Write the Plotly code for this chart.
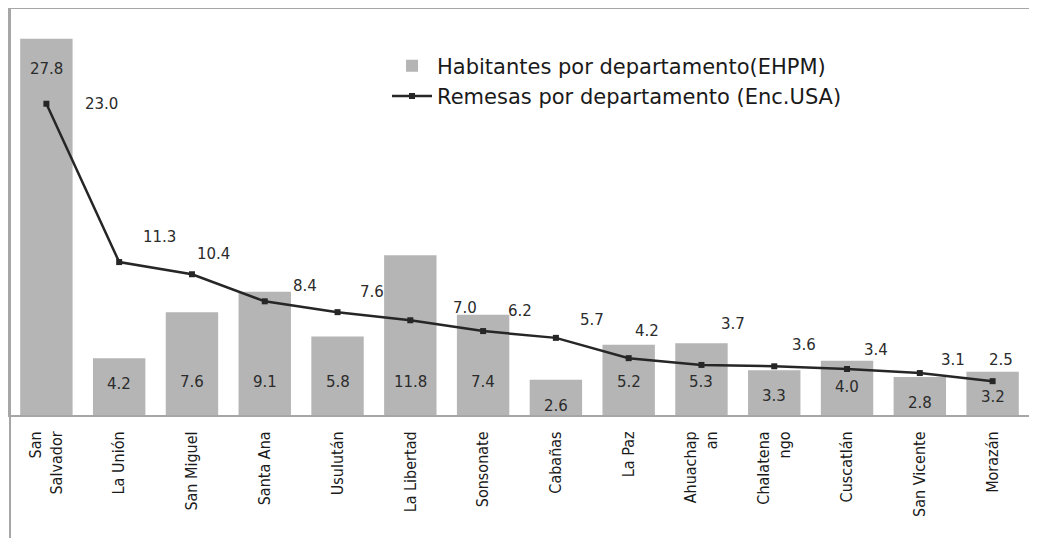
import plotly.graph_objects as go

# Departamentos (as written on the axis)
departamentos = ['San<br>Salvador', 'La Unión', 'San Miguel', 'Santa Ana', 'Usulután',
                 'La Libertad', 'Sonsonate', 'Cabañas', 'La Paz', 'Ahuachap<br>an',
                 'Chalatena<br>ngo', 'Cuscatlán', 'San Vicente', 'Morazán']

# Habitantes por departamento (EHPM), %
habitantes = [27.8, 4.2, 7.6, 9.1, 5.8, 11.8, 7.4, 2.6, 5.2, 5.3, 3.3, 4.0, 2.8, 3.2]

# Remesas por departamento (Enc.USA), %
remesas = [23.0, 11.3, 10.4, 8.4, 7.6, 7.0, 6.2, 5.7, 4.2, 3.7, 3.6, 3.4, 3.1, 2.5]

# pixel offsets of the line labels (style, not data)
label_shift = [(55, 0), (40, 25), (22, 20), (40, 15), (34, 20), (55, 12), (37, 20),
               (36, 18), (18, 27), (32, 41), (30, 21), (29, 19), (33, 13), (8, 21)]

fig = go.Figure()

fig.add_trace(go.Bar(
    x=departamentos, y=habitantes,
    name='Habitantes por departamento(EHPM)',
    marker=dict(color='#b5b5b5', line=dict(width=0)),
    width=0.72,
))

fig.add_trace(go.Scatter(
    x=departamentos, y=remesas,
    mode='lines+markers',
    name='Remesas por departamento (Enc.USA)',
    line=dict(color='#262626', width=2.5),
    marker=dict(symbol='square', size=6, color='#262626'),
))

lab_font = dict(family='DejaVu Sans', size=15, color='#2b2b2b')

# bar value labels
for d, v in zip(departamentos, habitantes):
    y_lab = v - 2.2 if v > 20 else min(v - 1.9, 2.45)
    fig.add_annotation(x=d, y=y_lab, text=f'{v:.1f}', showarrow=False,
                       font=lab_font, yanchor='middle')

# line value labels
for d, v, (dx, dy) in zip(departamentos, remesas, label_shift):
    fig.add_annotation(x=d, y=v, text=f'{v:.1f}', showarrow=False,
                       font=lab_font, xshift=dx, yshift=dy)

# left border running down past the axis
fig.add_shape(type='line', xref='paper', yref='paper', x0=0, x1=0, y0=1, y1=-0.31,
              line=dict(color='#a6a6a6', width=2))

fig.update_layout(
    width=1021, height=530,
    margin=dict(l=2, r=0, t=1, b=123),
    paper_bgcolor='white', plot_bgcolor='white',
    bargap=0.28,
    showlegend=True,
    legend=dict(x=0.37, y=0.91, xanchor='left', yanchor='top',
                bgcolor='rgba(0,0,0,0)', tracegroupgap=0, itemwidth=40,
                font=dict(family='DejaVu Sans', size=21, color='#1a1a1a')),
)

fig.update_xaxes(
    type='category', range=[-0.5, len(departamentos) - 0.5],
    showline=True, linecolor='#a6a6a6', linewidth=2, mirror=True,
    ticks='', tickangle=-90, ticklabelstandoff=8,
    tickfont=dict(family='Liberation Sans Narrow, DejaVu Sans Condensed', size=16, color='#1a1a1a'),
    showgrid=False,
)

fig.update_yaxes(
    range=[0, 30],
    showline=True, linecolor='#a6a6a6', linewidth=2,
    showticklabels=False, ticks='', showgrid=False, zeroline=False,
)

fig.write_html('out.html')
